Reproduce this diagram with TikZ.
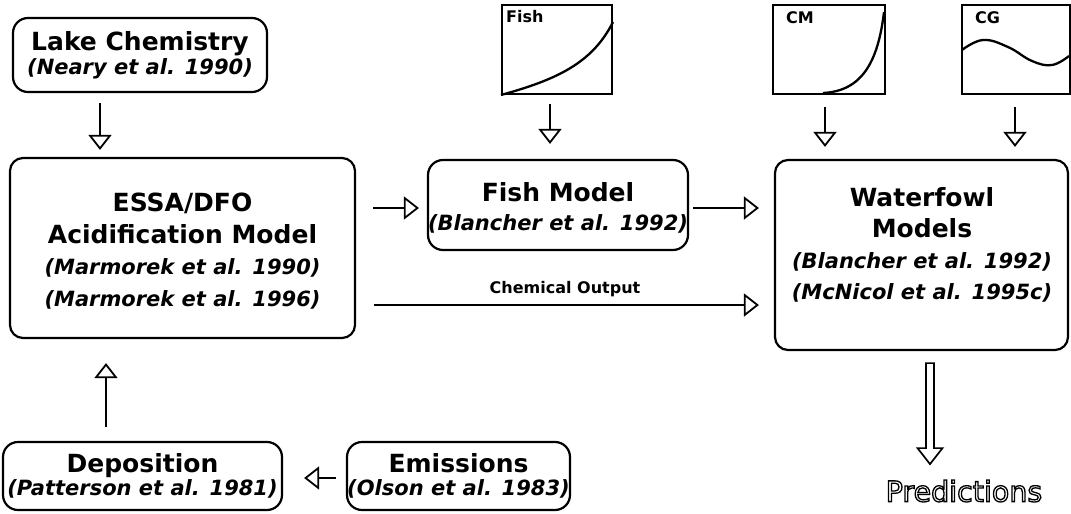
\documentclass[tikz,border=0pt]{standalone}
\usepackage{fontspec}
\setmainfont{DejaVu Sans}[BoldFont={DejaVu Sans Bold},ItalicFont={DejaVu Sans Oblique},BoldItalicFont={DejaVu Sans Bold Oblique}]
\usetikzlibrary{arrows.meta,calc}
\newcommand\mycite{\fontsize{21}{21}\selectfont\bfseries\itshape}
\newcommand\myskip[1]{\fontsize{25}{#1}\selectfont\bfseries\lineskiplimit=-100pt\relax}
\newcommand\hollowtext[1]{\special{pdf:literal 1 Tr 1.3 w}#1\special{pdf:literal 0 Tr}}
\begin{document}
\begin{tikzpicture}[x=1pt,y=-1pt,
  box/.style={draw, line width=2.2pt, rounded corners=15pt, align=center, inner sep=0pt},
  boxtext/.style={align=center, inner sep=0pt},
  plotbox/.style={draw, line width=2pt, inner sep=0pt},
  plotlbl/.style={font=\fontsize{16}{16}\selectfont\bfseries, anchor=north west, inner sep=0pt},
  curve/.style={line width=2.3pt},
  arr/.style={line width=1.8pt, -{Triangle[open,length=15pt,width=23pt,line width=1.8pt]}},
  chem/.style={font=\fontsize{16}{16}\selectfont\bfseries}]
\useasboundingbox (0,0) rectangle (1071,514);

% boxes
\node[box, minimum width=254pt, minimum height=74pt, font=\myskip{24}] (lake) at (140,55)
  {Lake Chemistry\\{\mycite (Neary et al. 1990)}};
\node[box, rounded corners=13pt, minimum width=345pt, minimum height=180pt] (essa) at (182.5,248) {};
\node[boxtext, font=\myskip{31.5}] (essatext) at (182.5,251)
  {ESSA/DFO\\Acidification Model\\{\mycite (Marmorek et al. 1990)}\\{\mycite (Marmorek et al. 1996)}};
\node[box, minimum width=260pt, minimum height=90pt] (fish) at (558,205) {};
\node[boxtext, font=\myskip{29}] (fishtext) at (558,208)
  {Fish Model\\{\mycite (Blancher et al. 1992)}};
\node[box, rounded corners=13pt, minimum width=293pt, minimum height=190pt] (wf) at (921.5,255) {};
\node[boxtext, font=\myskip{31}] (wftext) at (922,245)
  {Waterfowl\\Models\\{\mycite (Blancher et al. 1992)}\\{\mycite (McNicol et al. 1995c)}};
\node[box, minimum width=279pt, minimum height=68pt, font=\myskip{22.5}] (dep) at (142.5,476)
  {Deposition\\{\mycite (Patterson et al. 1981)}};
\node[box, minimum width=223pt, minimum height=68pt, font=\myskip{22.5}] (em) at (458.5,476)
  {Emissions\\{\mycite (Olson et al. 1983)}};

% small plots
\node[plotbox, minimum width=110pt, minimum height=89pt] (fishplot) at (557,49.5) {};
\node[plotlbl] (fishlbl) at ($(fishplot.north west)+(5,6)$) {Fish};
\draw[curve] (fishplot.south west) .. controls (555,80) and (592,64) .. (fishplot.north east |- 0,22);

\node[plotbox, minimum width=112pt, minimum height=89pt] (cmplot) at (829,49.5) {};
\node[plotlbl] (cmlbl) at ($(cmplot.north west)+(14,7)$) {CM};
\draw[curve] (823,93) .. controls (862,91) and (878,62) .. (884,12);

\node[plotbox, minimum width=108pt, minimum height=89pt] (cgplot) at (1016,49.5) {};
\node[plotlbl] (cglbl) at ($(cgplot.north west)+(14,7)$) {CG};
\draw[curve] plot[smooth, tension=0.7] coordinates {(962,50) (983,40) (1008,47) (1032,61) (1052,65) (1069,56)};

% connectors
\coordinate (xa) at (100,0);
\coordinate (xb) at (106,0);
\coordinate (xf) at (550,0);
\coordinate (xcm) at (825,0);
\coordinate (xcg) at (1015,0);
\coordinate (ym) at (0,208);
\coordinate (yc) at (0,305);
\coordinate (ye) at (0,478);
\coordinate (xp) at (930,0);

\draw[arr, shorten <=10pt, shorten >=7pt] (lake.south -| xa) -- (essa.north -| xa);
\draw[arr, shorten <=14pt, shorten >=24pt] (dep.north -| xb) -- (essa.south -| xb);
\draw[arr, shorten <=10pt, shorten >=21pt] (em.west |- ye) -- (dep.east |- ye);
\draw[arr, shorten <=17pt, shorten >=8pt] (essa.east |- ym) -- (fish.west |- ym);
\draw[arr, shorten <=4pt, shorten >=15pt] (fish.east |- ym) -- (wf.west |- ym);
\draw[arr, shorten <=18pt, shorten >=15pt] (essa.east |- yc) -- (wf.west |- yc)
  node[chem, midway, yshift=16pt] (chemlbl) {Chemical Output};
\draw[arr, shorten <=9pt, shorten >=15pt] (fishplot.south -| xf) -- (fish.north -| xf);
\draw[arr, shorten <=12pt, shorten >=12pt] (cmplot.south -| xcm) -- (wf.north -| xcm);
\draw[arr, shorten <=12pt, shorten >=12pt] (cgplot.south -| xcg) -- (wf.north -| xcg);

% predictions
\draw[line width=1.7pt, line join=miter] ($(wf.south -| xp)+(-4,12)$) -- ++(0,85) -- ++(-8.5,0) -- ++(12.5,16) -- ++(12.5,-16) -- ++(-8.5,0) -- ++(0,-85) -- cycle;
\node[font=\fontsize{28.5}{28.5}\selectfont, inner sep=0pt] (pred) at (964,491) {\hollowtext{Predictions}};
\end{tikzpicture}
\end{document}
